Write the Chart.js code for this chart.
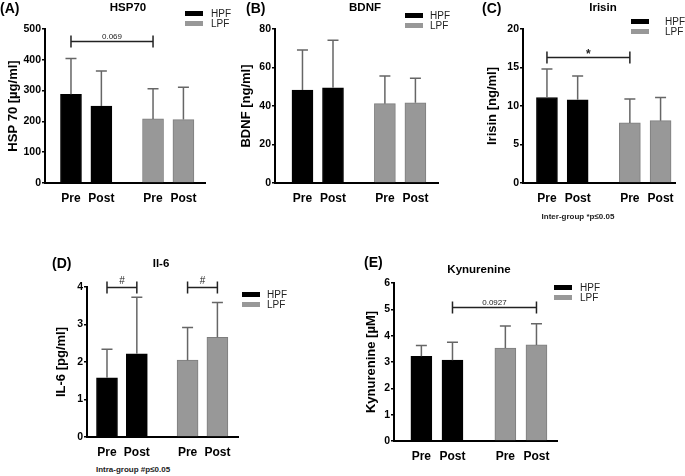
<!DOCTYPE html>
<html>
<head>
<meta charset="utf-8">
<script src="https://cdn.jsdelivr.net/npm/chart.js@4.4.1/dist/chart.umd.min.js"></script>
<style>
  body { margin: 0; background: #fff; font-family: "Liberation Sans", Arial, sans-serif; }
  #fig { position: relative; width: 685px; height: 476px; overflow: hidden; }
  .cv { position: absolute; }
  .t { position: absolute; white-space: nowrap; color: #000; }
  .letter { font-size: 14px; font-weight: bold; line-height: 14px; }
  .ttl { font-size: 11.5px; font-weight: bold; line-height: 12px; transform: translateX(-50%); }
  .lgbox { position: absolute; width: 18px; height: 5px; }
  .lgt { font-size: 10px; line-height: 10px; color: #222; }
  .note { font-size: 8px; font-weight: bold; line-height: 8px; color: #222; transform: translateX(-50%); }
</style>
</head>
<body>
<div id="fig"></div>
<script>
// categories
const groups = ['HPF', 'LPF'];
const xLabels = ['Pre', 'Post', 'Pre', 'Post'];
const barGroup = [0, 0, 1, 1];

// (A) HSP70 [µg/ml]
const hspMean = [288, 250, 208, 206];
const hspSD = [116, 114, 98, 105];
// (B) BDNF [ng/ml]
const bdnfMean = [48.3, 49.5, 41.2, 41.7];
const bdnfSD = [20.8, 24.6, 14.4, 12.7];
// (C) Irisin [ng/ml]
const irisinMean = [11.1, 10.8, 7.8, 8.1];
const irisinSD = [3.7, 3.1, 3.1, 3.0];
// (D) IL-6 [pg/ml]
const il6Mean = [1.58, 2.22, 2.05, 2.66];
const il6SD = [0.76, 1.51, 0.87, 0.93];
// (E) Kynurenine [µM]
const kynMean = [3.22, 3.07, 3.53, 3.65];
const kynSD = [0.41, 0.68, 0.84, 0.80];

// y-axis ranges and steps
const yMax = { A: 500, B: 80, C: 20, D: 4, E: 6 };
const yStep = { A: 100, B: 20, C: 5, D: 1, E: 1 };

// significance brackets: [from bar, to bar, y value, label]
const hspBrackets = [[0, 2, 460, '0.069']];
const irisinBrackets = [[0, 2, 16.3, '*']];
const il6Brackets = [[0, 1, 4.0, '#'], [2, 3, 4.0, '#']];
const kynBrackets = [[1, 3, 5.08, '0.0927']];

// layout (positions of bars along x, in axis units)
const slotX = [0, 1, 2.7, 3.7];
const colors = { HPF: '#000000', LPF: '#989898' };
const borders = { HPF: '#000000', LPF: '#7e7e7e' };
const FAMILY = '"Liberation Sans", Arial, sans-serif';

const panels = [
  { key: 'A', letter: '(A)', title: 'HSP70', yTitle: 'HSP 70 [µg/ml]', mean: hspMean, sd: hspSD, brackets: hspBrackets,
    box: [3, 0, 227, 215], axisW: 42, padTop: 29, padRight: 25, xAxisH: 32, xMin: -0.855, xMax: 4.41,
    letterPos: [0, 1], titlePos: [128, 1], legend: [185, 11, 211], note: null },
  { key: 'B', letter: '(B)', title: 'BDNF', yTitle: 'BDNF [ng/ml]', mean: bdnfMean, sd: bdnfSD, brackets: [],
    box: [236, 0, 219, 215], axisW: 39, padTop: 29, padRight: 17, xAxisH: 32, xMin: -0.9, xMax: 4.44,
    letterPos: [246, 1], titlePos: [365, 1], legend: [405, 13, 430], note: null },
  { key: 'C', letter: '(C)', title: 'Irisin', yTitle: 'Irisin [ng/ml]', mean: irisinMean, sd: irisinSD, brackets: irisinBrackets,
    box: [482, 0, 203, 215], axisW: 41, padTop: 29, padRight: 10, xAxisH: 32, xMin: -0.78, xMax: 4.17,
    letterPos: [482, 1], titlePos: [603, 1], legend: [631, 19, 665], note: ['Inter-group *p≤0.05', 578, 213] },
  { key: 'D', letter: '(D)', title: 'Il-6', yTitle: 'IL-6 [pg/ml]', mean: il6Mean, sd: il6SD, brackets: il6Brackets,
    box: [51, 240, 200, 225], axisW: 36, padTop: 47, padRight: 13, xAxisH: 28, xMin: -0.67, xMax: 4.39,
    letterPos: [52, 256], titlePos: [161, 257], legend: [242, 292, 267], note: ['Intra-group #p≤0.05', 133, 466] },
  { key: 'E', letter: '(E)', title: 'Kynurenine', yTitle: 'Kynurenine [µM]', mean: kynMean, sd: kynSD, brackets: kynBrackets,
    box: [361, 240, 208, 230], axisW: 33, padTop: 43, padRight: 12, xAxisH: 29, xMin: -0.88, xMax: 4.36,
    letterPos: [364, 255], titlePos: [479, 263], legend: [554, 285, 580], note: null }
];

const fig = document.getElementById('fig');

function addText(cls, text, x, y) {
  const d = document.createElement('div');
  d.className = 't ' + cls;
  d.textContent = text;
  d.style.left = x + 'px';
  d.style.top = y + 'px';
  fig.appendChild(d);
}

// error bars (upper SD) and significance brackets
const errorBars = {
  id: 'errorBars',
  afterDatasetsDraw(chart, args, opts) {
    const { ctx, scales: { x, y } } = chart;
    ctx.save();
    ctx.strokeStyle = '#666';
    ctx.lineWidth = 1.5;
    opts.mean.forEach((m, i) => {
      const px = x.getPixelForValue(slotX[i]);
      const y0 = y.getPixelForValue(m);
      const y1 = y.getPixelForValue(m + opts.sd[i]);
      ctx.beginPath();
      ctx.moveTo(px, y0);
      ctx.lineTo(px, y1);
      ctx.moveTo(px - 5.5, y1);
      ctx.lineTo(px + 5.5, y1);
      ctx.stroke();
    });
    ctx.strokeStyle = '#222';
    ctx.fillStyle = '#222';
    ctx.textAlign = 'center';
    ctx.textBaseline = 'bottom';
    opts.brackets.forEach(([a, b, v, label]) => {
      const xa = x.getPixelForValue(slotX[a]);
      const xb = x.getPixelForValue(slotX[b]);
      const py = Math.round(y.getPixelForValue(v)) + 0.5;
      ctx.lineWidth = 1.5;
      ctx.beginPath();
      ctx.moveTo(xa, py); ctx.lineTo(xb, py);
      ctx.moveTo(xa, py - 6); ctx.lineTo(xa, py + 6);
      ctx.moveTo(xb, py - 6); ctx.lineTo(xb, py + 6);
      ctx.stroke();
      if (label === '*') ctx.font = 'bold 12px ' + FAMILY;
      else if (label === '#') ctx.font = '10px ' + FAMILY;
      else ctx.font = '8px ' + FAMILY;
      ctx.fillText(label, (xa + xb) / 2, label === '*' ? py + 3 : py - 1);
    });
    ctx.restore();
  }
};

panels.forEach(p => {
  const wrap = document.createElement('div');
  wrap.className = 'cv';
  wrap.style.left = p.box[0] + 'px';
  wrap.style.top = p.box[1] + 'px';
  wrap.style.width = p.box[2] + 'px';
  wrap.style.height = p.box[3] + 'px';
  const canvas = document.createElement('canvas');
  wrap.appendChild(canvas);
  fig.appendChild(wrap);

  const datasets = groups.map((g, gi) => ({
    label: g,
    data: p.mean.map((m, i) => ({ x: slotX[i], y: m })).filter((d, i) => barGroup[i] === gi),
    backgroundColor: colors[g],
    borderColor: borders[g],
    borderWidth: 1,
    barThickness: 21,
    grouped: false
  }));

  new Chart(canvas, {
    type: 'bar',
    data: { datasets },
    plugins: [errorBars],
    options: {
      responsive: true,
      maintainAspectRatio: false,
      animation: false,
      layout: { padding: { left: 0, top: p.padTop, right: p.padRight, bottom: 0 } },
      plugins: {
        legend: { display: false },
        tooltip: { enabled: false },
        errorBars: { mean: p.mean, sd: p.sd, brackets: p.brackets }
      },
      scales: {
        x: {
          type: 'linear',
          offset: false,
          min: p.xMin,
          max: p.xMax,
          afterBuildTicks: axis => { axis.ticks = slotX.map(v => ({ value: v })); },
          afterFit: s => { s.height = p.xAxisH; },
          ticks: {
            callback: (v, i) => xLabels[i],
            autoSkip: false,
            maxRotation: 0,
            padding: 8,
            color: '#000',
            font: { family: FAMILY, size: 12, weight: 'bold' }
          },
          grid: { display: false, drawTicks: false },
          border: { display: true, color: '#000', width: 2 }
        },
        y: {
          min: 0,
          max: yMax[p.key],
          afterFit: s => { s.width = p.axisW; },
          ticks: {
            stepSize: yStep[p.key],
            padding: 1,
            color: '#000',
            font: { family: FAMILY, size: 10.5, weight: 'bold' }
          },
          grid: { display: true, drawOnChartArea: false, drawTicks: true, tickLength: 3, color: '#000', lineWidth: 1.5 },
          border: { display: true, color: '#000', width: 2 },
          title: {
            display: true,
            text: p.yTitle,
            color: '#000',
            padding: { top: 3, bottom: 0 },
            font: { family: FAMILY, size: 13, weight: 'bold' }
          }
        }
      }
    }
  });

  addText('letter', p.letter, p.letterPos[0], p.letterPos[1]);
  addText('ttl', p.title, p.titlePos[0], p.titlePos[1]);
  groups.forEach((g, gi) => {
    const b = document.createElement('div');
    b.className = 'lgbox';
    b.style.left = p.legend[0] + 'px';
    b.style.top = (p.legend[1] + gi * 10) + 'px';
    b.style.background = colors[g];
    fig.appendChild(b);
    addText('lgt', g, p.legend[2], p.legend[1] - 2 + gi * 10);
  });
  if (p.note) addText('note', p.note[0], p.note[1], p.note[2]);
});
</script>
</body>
</html>
